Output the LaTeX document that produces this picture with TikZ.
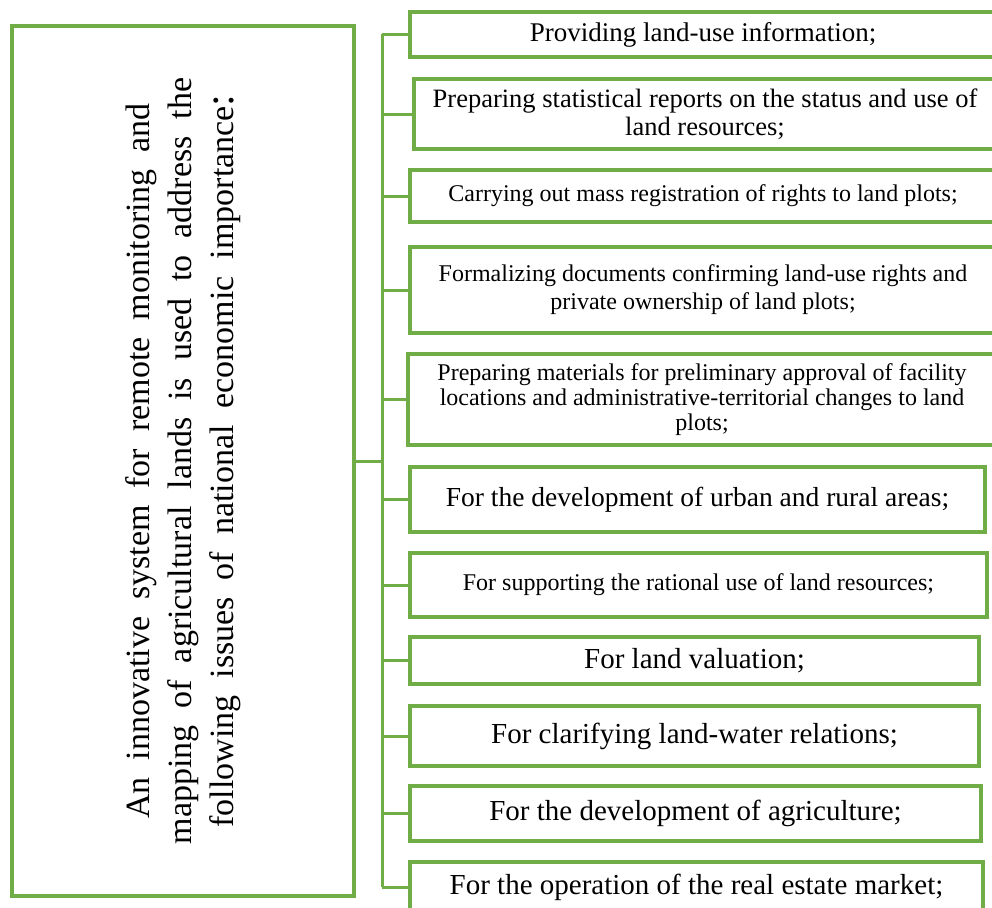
\documentclass[tikz,border=0pt]{standalone}
\usepackage{fontspec}
\setmainfont{Liberation Serif}
\usepackage{xcolor}
\usepackage{tikz}

\definecolor{leafgreen}{RGB}{112,173,71}
\newcommand{\fsz}[2]{\fontsize{#1}{#2}\selectfont}
\newcommand{\widespace}{\spaceskip=17pt plus 2pt\relax}
\tikzset{
    itembox/.style={draw=leafgreen, line width=3.5pt, rectangle, align=center, inner sep=2pt},
    link/.style={draw=leafgreen, line width=3pt},
}

\begin{document}
\begin{tikzpicture}[x=1pt, y=-1pt]
    \useasboundingbox (0,0) rectangle (992,907);

    % Main block
    \node[itembox, minimum width=342pt, minimum height=870pt] (main) at (183,461) {};
    \node[rotate=90, align=center, font=\fsz{34}{42}\widespace] (maintext) at (main.center) {An innovative system for remote monitoring and\\mapping of agricultural lands is used to address the\\following issues of national economic importance{\fsz{42}{42}:}};

    % Issues
    \node[itembox, minimum width=586pt, minimum height=45pt, font=\fsz{27}{28}] (b1) at (703,34.5) {Providing land-use information;};
    \node[itembox, minimum width=582pt, minimum height=70pt, font=\fsz{26.5}{28}] (b2) at (705,114) {Preparing statistical reports on the status and use of\\land resources;};
    \node[itembox, minimum width=586pt, minimum height=52pt, font=\fsz{24}{25}] (b3) at (703,196) {Carrying out mass registration of rights to land plots;};
    \node[itembox, minimum width=586pt, minimum height=86pt, font=\fsz{24}{28}] (b4) at (703,290) {Formalizing documents confirming land-use rights and\\private ownership of land plots;};
    \node[itembox, minimum width=588pt, minimum height=91pt, font=\fsz{24}{25}] (b5) at (702,399.5) {Preparing materials for preliminary approval of facility\\locations and administrative-territorial changes to land\\plots;};
    \node[itembox, minimum width=575pt, minimum height=65pt, font=\fsz{27.5}{29}] (b6) at (697.5,499.5) {For the development of urban and rural areas;};
    \node[itembox, minimum width=577pt, minimum height=64pt, font=\fsz{24}{25}] (b7) at (698.5,585) {For supporting the rational use of land resources;};
    \node[itembox, minimum width=569pt, minimum height=47pt, font=\fsz{29}{31}] (b8) at (694.5,660.5) {For land valuation;};
    \node[itembox, minimum width=569pt, minimum height=60pt, font=\fsz{29}{31}] (b9) at (694.5,736) {For clarifying land-water relations;};
    \node[itembox, minimum width=571pt, minimum height=55pt, font=\fsz{29}{31}] (b10) at (695.5,813.5) {For the development of agriculture;};
    \node[itembox, minimum width=573pt, minimum height=50pt, font=\fsz{29}{31}] (b11) at (696.5,887) {For the operation of the real estate market;};

    % Connections
    \coordinate (bus) at (382,461);
    \draw[link] (main.east) -- (bus);
    \draw[link] (bus |- b1.west) -- (bus |- b11.west);
    \foreach \i in {1,...,11}
        \draw[link] (bus |- b\i.west) -- (b\i.west);
\end{tikzpicture}
\end{document}
